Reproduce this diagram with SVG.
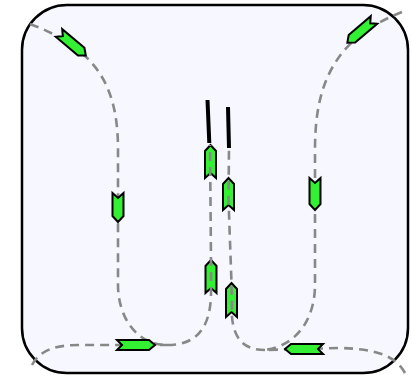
<svg xmlns="http://www.w3.org/2000/svg" width="412" height="377" viewBox="0 0 412 377">
<style>
.dash{fill:none;stroke:#888;stroke-width:2.6;stroke-dasharray:9 6}
.arr{fill:#33f033;stroke:#000;stroke-width:2;stroke-linejoin:miter}
.bar{fill:none;stroke:#000;stroke-width:4}
</style>
<g id="box">
<rect x="22" y="5" width="386" height="368" rx="45" ry="45" fill="#f7f8ff" stroke="#000" stroke-width="2.5"/>
</g>
<g id="connectors">
<path class="dash" d="M30,24 C100,50 118,90 118,150 L118,285 C118,315 135,345 167,345"/>
<path class="dash" d="M32,365 C40,350 55,345 80,345 L167,345"/>
<path class="dash" d="M402,12 C330,40 315,90 315,150 L315,285 C315,315 300,345 265,350"/>
<path class="dash" d="M405,373 C395,355 375,349 340,348 L265,350"/>
<g id="arrows">
<path class="arr" transform="translate(59,33) rotate(40)" d="M0,-5 L5,0 L0,5 L29,5 L35,0 L29,-5 Z"/>
<path class="arr" transform="translate(118,193) rotate(90)" d="M0,-5.5 L5,0 L0,5.5 L23,5.5 L29,0 L23,-5.5 Z"/>
<path class="arr" transform="translate(117,345) rotate(0)" d="M0,-5 L5,0 L0,5 L32,5 L38,0 L32,-5 Z"/>
<path class="arr" transform="translate(210.5,178) rotate(-90)" d="M0,-5.5 L5,0 L0,5.5 L27,5.5 L33,0 L27,-5.5 Z"/>
<path class="arr" transform="translate(211,293) rotate(-90)" d="M0,-5.5 L5,0 L0,5.5 L27,5.5 L33,0 L27,-5.5 Z"/>
<path class="arr" transform="translate(228.5,210) rotate(-90)" d="M0,-5.5 L5,0 L0,5.5 L26,5.5 L32,0 L26,-5.5 Z"/>
<path class="arr" transform="translate(231.5,317) rotate(-90)" d="M0,-5.5 L5,0 L0,5.5 L28,5.5 L34,0 L28,-5.5 Z"/>
<path class="arr" transform="translate(315,178) rotate(90)" d="M0,-5.5 L5,0 L0,5.5 L26,5.5 L32,0 L26,-5.5 Z"/>
<path class="arr" transform="translate(323,349) rotate(180)" d="M0,-5 L5,0 L0,5 L32,5 L38,0 L32,-5 Z"/>
<path class="arr" transform="translate(374,20) rotate(139.6)" d="M0,-5 L5,0 L0,5 L29,5 L35,0 L29,-5 Z"/>
</g>
<path class="dash" d="M167,345 C195,345 210,330 211,295 L211,260 L210,145"/>
<path class="dash" d="M265,350 C245,350 234,340 232,317 L231.5,283 L228.5,200 L229,148"/>
<path class="bar" d="M207.5,100 L209.3,143"/>
<path class="bar" d="M228,107 L229,148"/>
</g>
</svg>
